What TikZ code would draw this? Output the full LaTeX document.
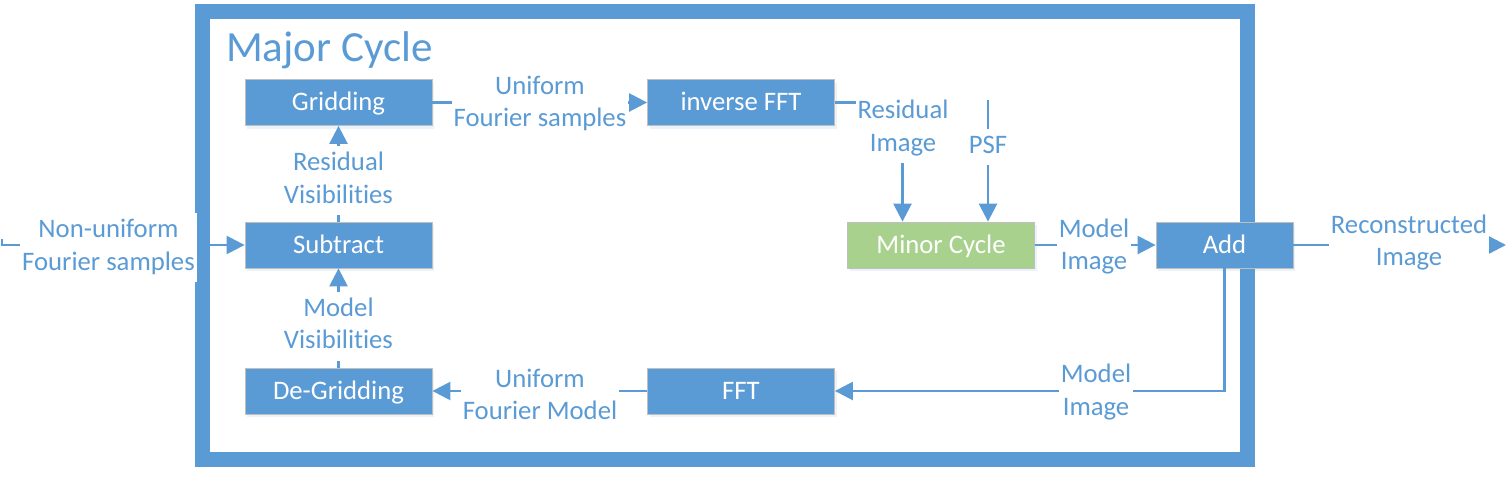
\documentclass[tikz,border=0pt]{standalone}
\usepackage{fontspec}
\setmainfont{Carlito}[Ligatures={NoCommon,NoRequired,NoContextual}]
\usetikzlibrary{arrows.meta,calc,shadows}
\definecolor{mblue}{HTML}{5B9BD5}
\definecolor{mgreen}{HTML}{A9D18E}
\definecolor{bgray}{HTML}{BFBFBF}
\tikzset{
 boxnode/.style={draw=bgray, line width=0.8pt, fill=mblue, text=white, minimum width=187pt, minimum height=46pt, inner sep=0pt, font=\fontsize{26.7}{32.5}\selectfont, text height=19pt, text depth=3pt, drop shadow={opacity=0.12, shadow xshift=2pt, shadow yshift=-3pt, fill=mblue}},
 lbl/.style={fill=white, text=mblue, align=center, inner sep=2pt, font=\fontsize{26.7}{32.5}\selectfont},
 conn/.style={draw=mblue, line width=2.5pt},
 arr/.style={conn, -{Triangle[length=18pt,width=18pt]}},
 frame/.style={draw=mblue, line width=15pt},
}
\begin{document}
\begin{tikzpicture}[x=1pt,y=-1pt]
\useasboundingbox (0,0) rectangle (1507,482);
\draw[frame] (202.5,11.5) rectangle (1247.5,459);
\node[anchor=base west, text=mblue, font=\fontsize{43}{52}\selectfont, inner sep=0pt] (title) at (226,61) {Major Cycle};
\node[boxnode] (grid) at (338.5,102.5) {Gridding};
\node[boxnode] (ifft) at (741,102.5) {inverse FFT};
\node[boxnode] (sub) at (338.5,245) {Subtract};
\node[boxnode, fill=mgreen] (minor) at (941,245) {Minor Cycle};
\node[boxnode, minimum width=137pt] (add) at (1224.5,245) {Add};
\node[boxnode] (degrid) at (338.5,391) {De-Gridding};
\node[boxnode] (fft) at (741,391) {FFT};
\coordinate (in) at (2,239);
\coordinate (psf) at (988,100);
\coordinate (out) at (1506,245);
\draw[arr] (grid.east) -- (ifft.west);
\draw[arr] (sub.north) -- (grid.south);
\draw[arr] (degrid.north) -- (sub.south);
\draw[arr] (in) |- (sub.west);
\draw[arr] (ifft.east) -| ([xshift=-38.5pt]minor.north);
\draw[arr] (psf) -- (psf |- minor.north);
\draw[arr] (minor.east) -- (add.west);
\draw[arr] (add.east) -- (out);
\draw[arr] (add.south) |- (fft.east);
\draw[arr] (fft.west) -- (degrid.east);
\node[lbl] (l1) at (540,104) {\strut Uniform\\\strut Fourier samples};
\node[lbl] (l2) at (338.5,180.5) {\strut Residual\\\strut Visibilities};
\node[lbl] (l3) at (338.5,326) {\strut Model\\\strut Visibilities};
\node[lbl] (l4) at (903,128.5) {\strut Residual\\\strut Image};
\node[lbl] (l5) at (988,147) {\strut PSF};
\node[lbl] (l6) at (1094,247) {\strut Model\\\strut Image};
\node[lbl] (l7) at (1409,243) {\strut Reconstructed\\\strut Image};
\node[lbl] (l8) at (1096,392.5) {\strut Model\\\strut Image};
\node[lbl] (l9) at (540,397) {\strut Uniform\\\strut Fourier Model};
\node[lbl] (l10) at (108.5,247.3) {\strut Non-uniform\\\strut Fourier samples};
\end{tikzpicture}
\end{document}
